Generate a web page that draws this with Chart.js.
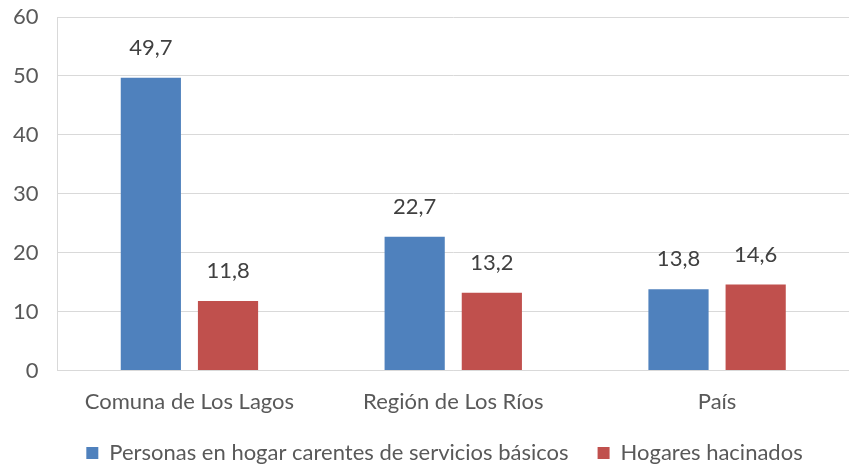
<!DOCTYPE html>
<html><head><meta charset="utf-8">
<script src="https://cdn.jsdelivr.net/npm/chart.js@4"></script>
<style>html,body{margin:0;padding:0;background:#fff}#w{width:849px;height:469px}</style>
</head><body><div id="w"><canvas id="c"></canvas></div>
<script>
const categories = ["Comuna de Los Lagos", "Región de Los Ríos", "País"];
const personas = [49.7, 22.7, 13.8];
const hogares = [11.8, 13.2, 14.6];
const yTicks = [0, 10, 20, 30, 40, 50, 60];
const seriesNames = ["Personas en hogar carentes de servicios básicos", "Hogares hacinados"];

const FONT = "Lato, 'Open Sans', sans-serif";
const TXT = "#595959";
const FS = 22;

const labelPlugin = {
  id: 'vlabels',
  afterLayout(chart) {
    if (chart.legend) { chart.legend.left += 23; chart.legend.right += 23; }
  },
  afterDatasetsDraw(chart) {
    const ctx = chart.ctx;
    ctx.save();
    ctx.font = FS + "px " + FONT;
    ctx.fillStyle = "#404040";
    ctx.textAlign = "center";
    ctx.textBaseline = "middle";
    chart.data.datasets.forEach((ds, i) => {
      chart.getDatasetMeta(i).data.forEach((bar, j) => {
        ctx.fillText(ds.data[j].toFixed(1).replace('.', ','), bar.x, bar.y - 30);
      });
    });
    ctx.restore();
  }
};

new Chart(document.getElementById('c'), {
  type: 'bar',
  data: {
    labels: categories,
    datasets: [
      { label: seriesNames[0], data: personas, backgroundColor: '#4F81BD', categoryPercentage: 0.585, barPercentage: 0.78 },
      { label: seriesNames[1], data: hogares, backgroundColor: '#C0504D', categoryPercentage: 0.585, barPercentage: 0.78 }
    ]
  },
  options: {
    responsive: true, maintainAspectRatio: false, animation: false,
    layout: { padding: { left: -6, top: 17, right: 0, bottom: -5 } },
    plugins: {
      tooltip: { enabled: false },
      legend: {
        position: 'bottom',
        labels: { boxWidth: 12, boxHeight: 12, padding: 29, color: TXT, font: { family: FONT, size: FS } }
      }
    },
    scales: {
      x: {
        grid: { display: false },
        border: { color: '#D9D9D9', width: 1 },
        ticks: { color: TXT, font: { family: FONT, size: FS }, padding: 10 },
        afterFit(axis) { axis.height -= 12; }
      },
      y: {
        min: 0, max: 60,
        afterBuildTicks(axis) { axis.ticks = yTicks.map(v => ({ value: v })); },
        grid: { color: '#D9D9D9', drawTicks: false },
        border: { color: '#D9D9D9', width: 1 },
        ticks: { color: TXT, font: { family: FONT, size: FS }, padding: 19 },
        afterFit(axis) { axis.paddingTop = 0; }
      }
    }
  },
  plugins: [labelPlugin]
});
</script></body></html>
